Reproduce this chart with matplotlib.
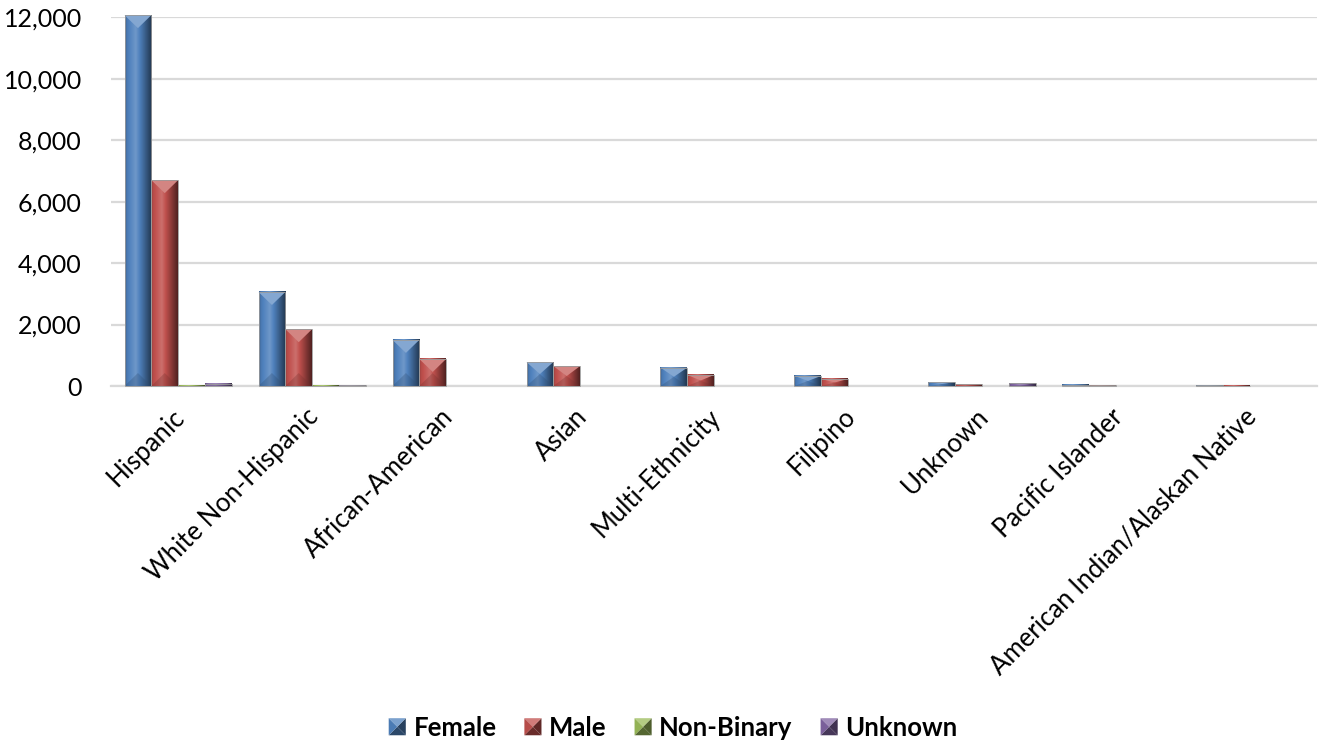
import numpy as np
import matplotlib
matplotlib.use("Agg")
import matplotlib.pyplot as plt
import matplotlib.transforms as mtrans
from matplotlib.patches import Polygon, Rectangle
from matplotlib.legend_handler import HandlerBase
from matplotlib.colors import to_rgb

categories = ["Hispanic", "White Non-Hispanic", "African-American", "Asian",
              "Multi-Ethnicity", "Filipino", "Unknown", "Pacific Islander",
              "American Indian/Alaskan Native"]
female = [12070, 3060, 1500, 780, 600, 330, 130, 40, 30]
male = [6700, 1850, 880, 650, 360, 230, 55, 20, 10]
non_binary = [10, 5, 0, 0, 0, 0, 0, 0, 0]
unknown = [80, 25, 0, 0, 0, 0, 85, 0, 0]
series_names = ["Female", "Male", "Non-Binary", "Unknown"]
series_colors = ["#4F81BD", "#C0504D", "#9BBB59", "#8064A2"]
yticks = [0, 2000, 4000, 6000, 8000, 10000, 12000]

FONT = "Lato"

fig = plt.figure(figsize=(13.23, 7.51), dpi=100)
ax = fig.add_axes([0.084, 0.486, 0.9115, 0.491])
ax.set_xlim(0, len(categories))
ax.set_ylim(0, 12000)


def shade(rgb, f):
    rgb = np.array(rgb)
    if f >= 1:
        return np.clip(rgb + (1 - rgb) * (f - 1), 0, 1)
    return np.clip(rgb * f, 0, 1)


# horizontal light profile across a bevelled bar
prof_t = np.linspace(0, 1, 64)
prof_f = np.interp(prof_t, [0, 0.08, 0.4, 0.7, 1.0], [0.78, 0.95, 1.18, 0.8, 0.42])

fig.canvas.draw()
px_per_unit = (ax.transData.transform((0, 1000))[1] - ax.transData.transform((0, 0))[1]) / 1000.0
bevel_px = 13.0

bar_w = 0.2
all_series = [female, male, non_binary, unknown]
for s, (vals, col) in enumerate(zip(all_series, series_colors)):
    base = to_rgb(col)
    grad = np.array([shade(base, f) for f in prof_f])[None, :, :]
    for i, v in enumerate(vals):
        if v <= 0:
            continue
        x0 = i + 0.1 + s * bar_w
        x1 = x0 + bar_w
        xc = (x0 + x1) / 2
        im = ax.imshow(grad, extent=[x0, x1, 0, v], aspect="auto", zorder=3,
                       interpolation="bilinear")
        im.set_clip_on(False)
        d = min(bevel_px / px_per_unit, v / 2.0)
        ax.add_patch(Polygon([(x0, v), (x1, v), (xc, v - d)], closed=True,
                             facecolor=shade(base, 1.3), edgecolor="none",
                             zorder=4, clip_on=False))
        ax.add_patch(Polygon([(x0, 0), (x1, 0), (xc, d)], closed=True,
                             facecolor=shade(base, 0.6), edgecolor="none",
                             alpha=0.3, zorder=4, clip_on=False))
        ax.add_patch(Rectangle((x0, 0), bar_w, v, facecolor="none",
                               edgecolor="#9a9a9a", linewidth=0.6, zorder=5,
                               clip_on=False))

ax.set_aspect("auto")
ax.set_xlim(0, len(categories))
ax.set_ylim(0, 12000)

ax.set_yticks(yticks)
ax.set_yticklabels([f"{t:,}" for t in yticks], fontsize=18, family=FONT)
ax.yaxis.grid(True, color="#d9d9d9", linewidth=1.6, zorder=0)
ax.set_axisbelow(True)
ax.tick_params(axis="y", length=0, pad=21)
ax.tick_params(axis="x", length=0)
for sp in ["top", "right", "left"]:
    ax.spines[sp].set_visible(False)
ax.spines["bottom"].set_color("#d9d9d9")
ax.spines["bottom"].set_linewidth(1.6)

ax.set_xticks(np.arange(len(categories)) + 0.5)
ax.set_xticklabels(categories, rotation=45, ha="right", va="center",
                   rotation_mode="anchor", fontsize=18.5, family=FONT)
offset = mtrans.ScaledTranslation(0.03, -0.22, fig.dpi_scale_trans)
for lab in ax.get_xticklabels():
    lab.set_transform(lab.get_transform() + offset)


class PyramidHandler(HandlerBase):
    def create_artists(self, legend, orig_handle, xdescent, ydescent,
                       width, height, fontsize, trans):
        base = to_rgb(orig_handle.get_facecolor())
        s = min(width, height) * 0.95
        x0 = xdescent + width - s
        y0 = -ydescent + (height - s) / 2
        cx, cy = x0 + s / 2, y0 + s / 2
        corners = [(x0, y0), (x0 + s, y0), (x0 + s, y0 + s), (x0, y0 + s)]
        facs = [0.55, 0.5, 1.25, 0.95]  # bottom, right, top, left
        arts = []
        for k in range(4):
            p = Polygon([corners[k], corners[(k + 1) % 4], (cx, cy)], closed=True,
                        facecolor=shade(base, facs[k]), edgecolor="none",
                        transform=trans)
            arts.append(p)
        return arts


handles = [Rectangle((0, 0), 1, 1, facecolor=c) for c in series_colors]
leg = fig.legend(handles, series_names, loc="center", bbox_to_anchor=(0.508, 0.031),
                 ncol=4, frameon=False, handler_map={Rectangle: PyramidHandler()},
                 prop={"family": FONT, "weight": "bold", "size": 18.5},
                 handlelength=0.75, handletextpad=0.3, columnspacing=1.0)

fig.savefig("out.png", dpi=100)
